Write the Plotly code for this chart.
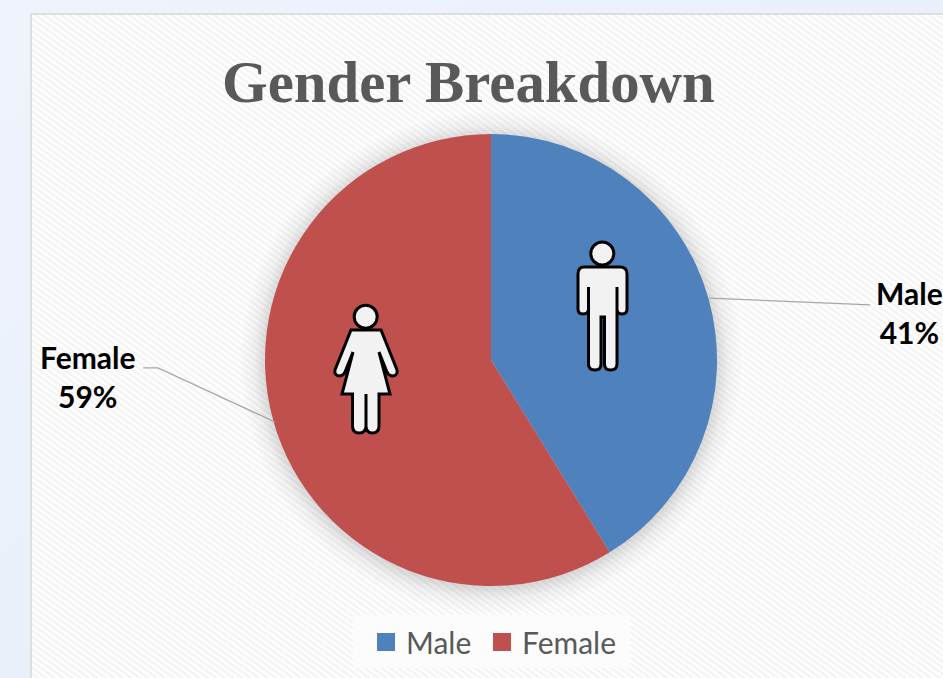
import base64
import plotly.graph_objects as go

W, H = 943, 678
categories = ["Male", "Female"]
shares = [41.2, 58.8]
colors = ["#4f81bd", "#c0504d"]
title_text = "Gender Breakdown"


def px(x):
    return x / W


def py(y):
    return 1 - y / H


def path(cmds):
    out = []
    for c in cmds:
        if isinstance(c, str):
            out.append(c)
        else:
            out.append(f"{px(c[0]):.5f},{py(c[1]):.5f}")
    return " ".join(out)


bg_svg = f'''<svg xmlns="http://www.w3.org/2000/svg" width="{W}" height="{H}" viewBox="0 0 {W} {H}">
<defs>
<linearGradient id="pg" x1="0" y1="0" x2="1" y2="1"><stop offset="0" stop-color="#eef3fc"/><stop offset="1" stop-color="#e6edf8"/></linearGradient>
<pattern id="h" width="5" height="5" patternUnits="userSpaceOnUse" patternTransform="rotate(36)">
<rect width="5" height="5" fill="#ffffff"/><rect width="5" height="2.5" fill="#f4f4f4"/></pattern>
<radialGradient id="s" cx="0.5" cy="0.5" r="0.5">
<stop offset="0.895" stop-color="#000" stop-opacity="0.14"/><stop offset="0.94" stop-color="#000" stop-opacity="0.05"/><stop offset="1" stop-color="#000" stop-opacity="0"/></radialGradient>
</defs>
<rect width="{W}" height="{H}" fill="url(#pg)"/>
<rect x="31" y="14" width="920" height="680" fill="url(#h)" stroke="#dcdedf" stroke-width="2"/>
<circle cx="491" cy="362" r="252" fill="url(#s)"/>
<rect x="353" y="615" width="277" height="53" fill="#fcfcfc"/>
</svg>'''
bg_uri = "data:image/svg+xml;base64," + base64.b64encode(bg_svg.encode()).decode()

male_path = path([
    "M", (584, 267), "L", (620, 267), "Q", (627, 267), (627, 274), "L", (627, 309),
    "Q", (627, 314), (622, 314), "Q", (617, 314), (617, 309), "L", (617, 287),
    "L", (617, 364), "Q", (617, 370), (610.5, 370), "Q", (604.5, 370), (604.5, 364),
    "L", (604.5, 317), "L", (601, 317), "L", (601, 364), "Q", (601, 370), (595, 370),
    "Q", (588.5, 370), (588.5, 364), "L", (588.5, 287), "L", (588.5, 309),
    "Q", (588.5, 314), (583, 314), "Q", (578, 314), (578, 309), "L", (578, 274),
    "Q", (578, 267), (584, 267), "Z",
])
female_path = path([
    "M", (351, 330), "L", (381, 330), "L", (397, 370), "Q", (398, 375), (393, 376),
    "Q", (389, 376), (387, 372), "L", (379, 352), "L", (390, 394), "L", (379, 394),
    "L", (379, 426), "Q", (379, 433), (372.5, 433), "Q", (366, 433), (366, 426),
    "L", (366, 394), "L", (366, 426), "Q", (366, 433), (359, 433), "Q", (352.5, 433), (352.5, 426),
    "L", (352.5, 394), "L", (342, 394), "L", (353, 352), "L", (345, 372),
    "Q", (343, 376), (339, 376), "Q", (334, 375), (335, 370), "Z",
])
icon = dict(type="path", xref="paper", yref="paper", fillcolor="#f2f2f2",
            line=dict(color="#000000", width=3), layer="above")


def circle(cx, cy, r):
    return dict(type="circle", xref="paper", yref="paper", x0=px(cx - r), x1=px(cx + r),
                y0=py(cy + r), y1=py(cy - r), fillcolor="#f2f2f2",
                line=dict(color="#000000", width=3), layer="above")


leaders = [
    path(["M", (709, 298), "L", (870, 305)]),
    path(["M", (275, 422), "L", (158, 368), "L", (143, 368)]),
]
shapes = [dict(type="path", xref="paper", yref="paper", path=p,
               line=dict(color="#a6a6a6", width=1.25), layer="above") for p in leaders]
shapes += [dict(icon, path=male_path), dict(icon, path=female_path),
           circle(602.3, 253.5, 11.5), circle(365.7, 316.7, 11.5)]

label_font = dict(family="Lato", size=30, color="#000000")
annotations = [
    dict(text=f"<b>{categories[0]}</b><br><b>{round(shares[0])}%</b>", x=px(909), y=py(312)),
    dict(text=f"<b>{categories[1]}</b><br><b>{round(shares[1])}%</b>", x=px(87), y=py(376)),
]
for a in annotations:
    a.update(xref="paper", yref="paper", showarrow=False, font=label_font,
             xanchor="center", yanchor="middle", align="center")
annotations.append(dict(text=f"<b>{title_text}</b>", x=px(468.5), y=py(82.5), xref="paper", yref="paper",
                        showarrow=False, xanchor="center", yanchor="middle",
                        font=dict(family="Liberation Serif", size=58.8, color="#595959")))

fig = go.Figure(go.Pie(
    labels=categories, values=shares, sort=False, direction="clockwise", rotation=0,
    marker=dict(colors=colors, line=dict(width=0)), textinfo="none", hoverinfo="label+percent",
    domain=dict(x=[px(265), px(717)], y=[py(586), py(134)]), showlegend=False,
))
legend_refs = ["legend", "legend2"]
for name, color, ref in zip(categories, colors, legend_refs):
    fig.add_trace(go.Scatter(x=[None], y=[None], mode="markers", name=name, hoverinfo="skip",
                             legend=ref,
                             marker=dict(symbol="square", size=16, color=color,
                                         line=dict(color=color, width=2))))
legend_style = dict(y=py(642), xanchor="left", yanchor="middle",
                    font=dict(family="Lato", size=30, color="#595959"), bgcolor="rgba(0,0,0,0)")
fig.update_layout(
    width=W, height=H, margin=dict(l=0, r=0, t=0, b=0), paper_bgcolor="rgba(0,0,0,0)",
    plot_bgcolor="rgba(0,0,0,0)",
    xaxis=dict(visible=False), yaxis=dict(visible=False),
    showlegend=True,
    legend=dict(legend_style, x=px(366)),
    legend2=dict(legend_style, x=px(482)),
    images=[dict(source=bg_uri, xref="paper", yref="paper", x=0, y=1, sizex=1, sizey=1,
                 sizing="stretch", xanchor="left", yanchor="top", layer="below")],
    shapes=shapes, annotations=annotations,
)
fig.write_html("out.html", config={"displayModeBar": False},
               post_script="document.body.style.margin='0';document.body.style.overflow='hidden';")
